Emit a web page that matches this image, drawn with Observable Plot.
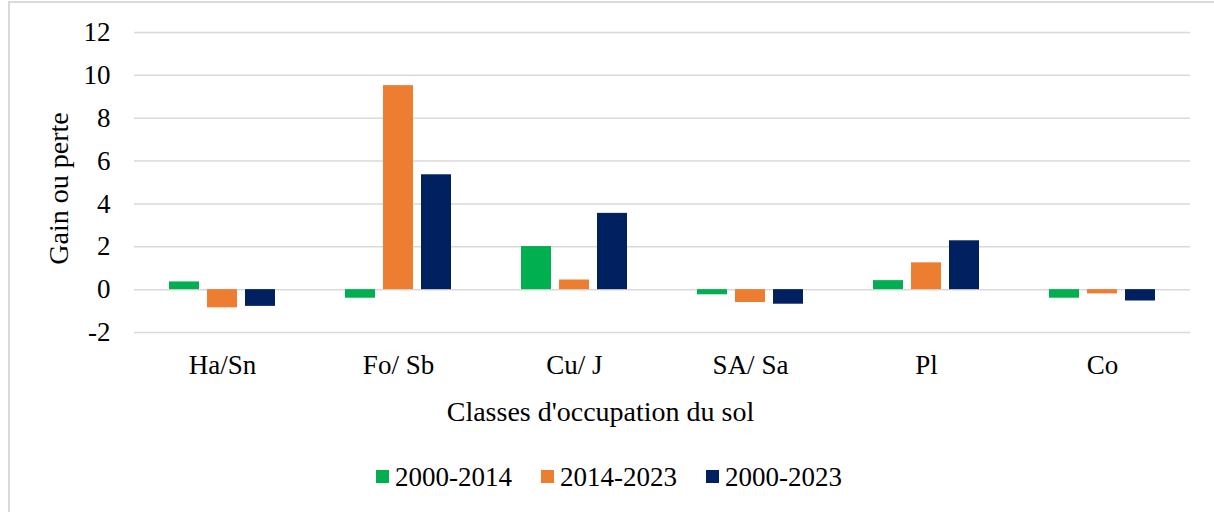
<!DOCTYPE html>
<html>
<head>
<meta charset="utf-8">
<script src="https://cdn.jsdelivr.net/npm/d3@7"></script>
<script src="https://cdn.jsdelivr.net/npm/@observablehq/plot@0.6"></script>
<style>
  html, body { margin: 0; padding: 0; background: #fff; }
  body { width: 1214px; height: 512px; overflow: hidden; position: relative;
         font-family: "Liberation Serif", "Times New Roman", serif; color: #000; }
  #frame { position: absolute; left: 8px; top: 1px; width: 1230px; height: 540px;
           border: 2px solid #d9d9d9; box-sizing: border-box; pointer-events: none; }
  #chart svg { display: block; }
  #legend { position: relative; width: 1202px; margin-left: 8px; height: 54px;
            display: flex; justify-content: center; align-items: center; gap: 29px;
            font-size: 27px; }
  .item { display: flex; align-items: center; gap: 6px; }
  .sw { width: 13px; height: 13px; display: inline-block; margin-top: -2px; }
</style>
</head>
<body>
<div id="chart"></div>
<div id="legend"></div>
<div id="frame"></div>
<script>
const categories = ["Ha/Sn", "Fo/ Sb", "Cu/ J", "SA/ Sa", "Pl", "Co"];
const seriesNames = ["2000-2014", "2014-2023", "2000-2023"];
const seriesColors = ["#00B050", "#ED7D31", "#002060"];
const v2000_2014 = [0.36, -0.40, 2.01, -0.24, 0.42, -0.40];
const v2014_2023 = [-0.85, 9.52, 0.45, -0.60, 1.25, -0.20];
const v2000_2023 = [-0.78, 5.36, 3.56, -0.68, 2.28, -0.53];
const yTicks = [-2, 0, 2, 4, 6, 8, 10, 12];
const yTitle = "Gain ou perte";
const xTitle = "Classes d'occupation du sol";

const seriesValues = [v2000_2014, v2014_2023, v2000_2023];
const data = [];
categories.forEach((c, i) => {
  seriesNames.forEach((s, j) => data.push({cat: c, series: s, value: seriesValues[j][i]}));
});

const plot = Plot.plot({
  width: 1214,
  height: 450,
  marginLeft: 134,
  marginRight: 24,
  marginTop: 32,
  marginBottom: 118,
  style: {fontFamily: "'Liberation Serif', 'Times New Roman', serif", fontSize: "27px", color: "#000", background: "transparent"},
  fx: {domain: categories, padding: 0, axis: "bottom", tickSize: 0, tickPadding: 22, label: null},
  x: {domain: seriesNames, axis: null, paddingInner: 0.205, paddingOuter: 0.859},
  y: {domain: [-2, 12], ticks: yTicks, tickSize: 0, tickPadding: 24, label: null, tickFormat: d => String(d)},
  color: {domain: seriesNames, range: seriesColors},
  marks: [
    Plot.ruleY(yTicks, {stroke: "#d9d9d9", strokeWidth: 1.5}),
    Plot.barY(data, {fx: "cat", x: "series", y: "value", fill: "series"}),
    Plot.text([yTitle], {facet: "super", frameAnchor: "left", textAnchor: "middle", lineAnchor: "middle", dx: -75, dy: 6, rotate: -90, fontSize: 28, fill: "#000"}),
    Plot.text([xTitle], {facet: "super", frameAnchor: "bottom", textAnchor: "middle", lineAnchor: "middle", dx: -62, dy: 80, fontSize: 28, fill: "#000"})
  ]
});
document.getElementById("chart").appendChild(plot);

const legend = document.getElementById("legend");
seriesNames.forEach((s, i) => {
  const item = document.createElement("div");
  item.className = "item";
  const sw = document.createElement("span");
  sw.className = "sw";
  sw.style.background = seriesColors[i];
  const t = document.createElement("span");
  t.textContent = s;
  item.appendChild(sw);
  item.appendChild(t);
  legend.appendChild(item);
});
</script>
</body>
</html>
